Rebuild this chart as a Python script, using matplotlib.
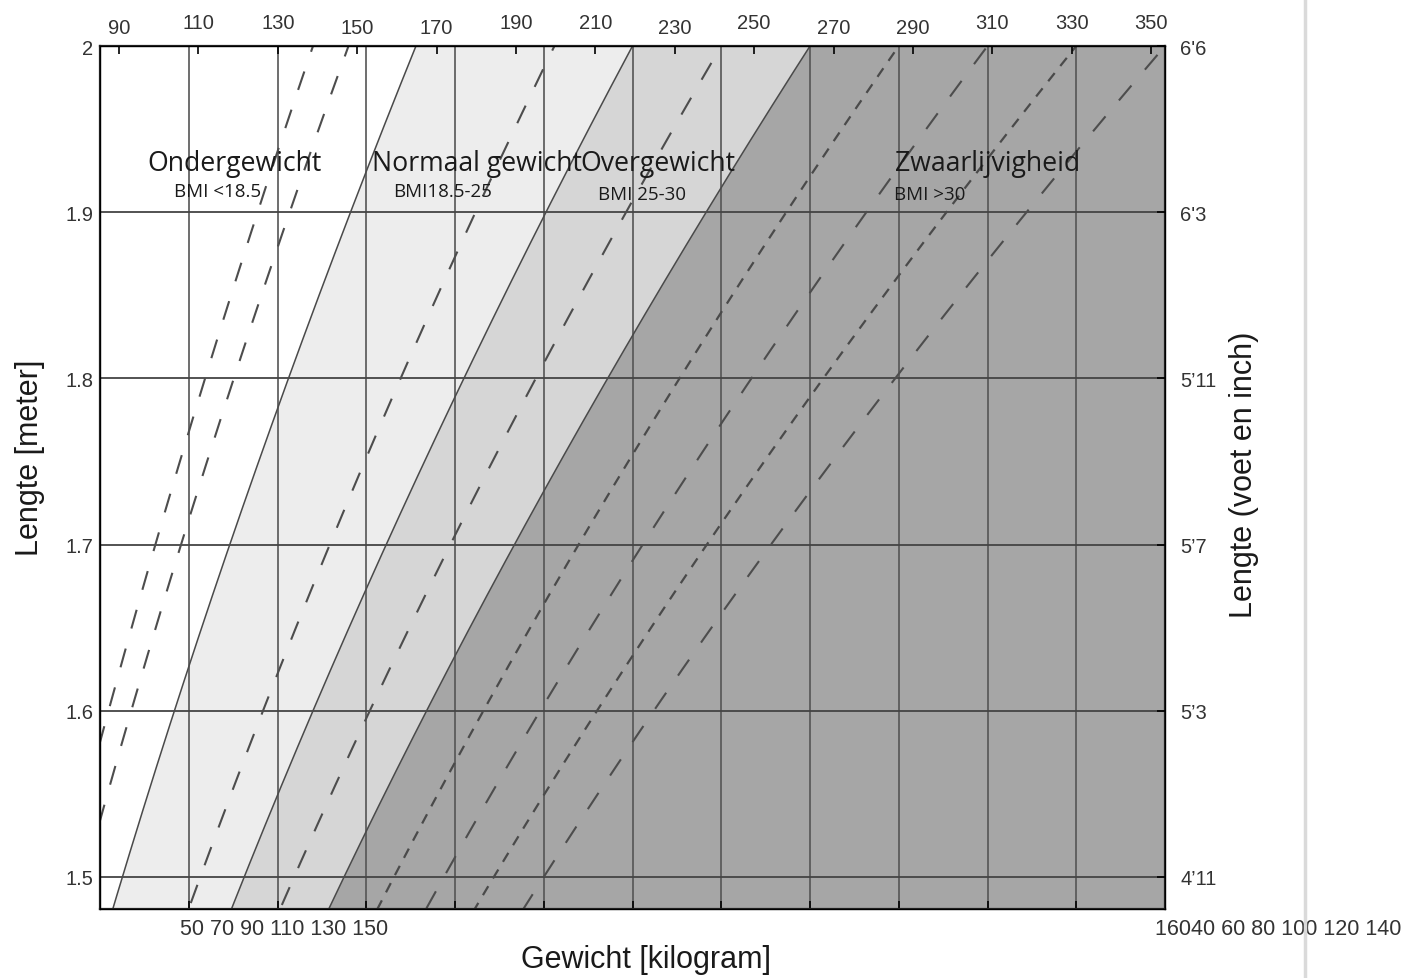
import numpy as np
import matplotlib
matplotlib.use("Agg")
import matplotlib.pyplot as plt
from matplotlib.lines import Line2D

plt.rcParams['lines.scale_dashes'] = False

# BMI class boundaries as drawn in the picture
bmi_edges = [0, 18.9, 25, 30, 200]
zone_colors = ['#ffffff', '#ededed', '#d6d6d6', '#a6a6a6']

# dashed helper lines (BMI values)
bmi_long_dash = [16, 17, 22.8, 27.5, 35, 40]
bmi_short_dash = [32.5, 37.5]
bmi_solid = [18.9, 25, 30]

zone_names = ['Ondergewicht', 'Normaal gewicht', 'Overgewicht', 'Zwaarlijvigheid']
zone_bmi_text = ['BMI <18.5', 'BMI18.5-25', 'BMI 25-30', 'BMI >30']

kg_ticks = [50, 60, 70, 80, 90, 100, 110, 120, 130, 140, 150]
m_ticks = [1.5, 1.6, 1.7, 1.8, 1.9, 2.0]
m_labels = ['1.5', '1.6', '1.7', '1.8', '1.9', '2']
ft_labels = ['4\u201911', '5\u20193', '5\u20197', '5\u201911', "6'3", "6'6"]
lbs_ticks = [90, 110, 130, 150, 170, 190, 210, 230, 250, 270, 290, 310, 330, 350]
lbs_low = [90, 150, 170, 230, 270, 290]
bottom_text_left = '50 70 90 110 130 150'
bottom_text_right = '16040 60 80 100 120 140'

W, H = 1401, 979
fig = plt.figure(figsize=(W / 100, H / 100), dpi=100)
ax = fig.add_axes([100 / W, 1 - 910 / H, 1065 / W, 863 / H])
ax.set_xlim(40, 160)
ax.set_ylim(1.4807, 2.0)

h = np.linspace(1.4, 2.1, 300)
for i in range(4):
    ax.fill_betweenx(h, bmi_edges[i] * h ** 2, bmi_edges[i + 1] * h ** 2,
                     color=zone_colors[i], lw=0, zorder=0)

line_col = '#4a4a4a'
for b in bmi_solid:
    ax.plot(b * h ** 2, h, color=line_col, lw=1.1, zorder=2)
for b in bmi_long_dash:
    ax.plot(b * h ** 2, h, color='#4d4d4d', lw=1.5, dashes=(14, 15), zorder=2)
for b in bmi_short_dash:
    ax.plot(b * h ** 2, h, color='#4a4a4a', lw=1.6, dashes=(7.5, 6.5), zorder=2)

for x in kg_ticks:
    ax.axvline(x, color='#555555', lw=1.2, zorder=1)
for y in m_ticks[:-1]:
    ax.axhline(y, color='#444444', lw=1.3, zorder=1)

for s in ax.spines.values():
    s.set_linewidth(1.6)
    s.set_color('#222222')

tick_font = dict(family='Liberation Sans', size=14.5)
ax.set_xticks(kg_ticks)
ax.tick_params(axis='x', direction='in', length=6, width=1.2, labelbottom=False)
ax.set_yticks(m_ticks)
ax.set_yticklabels(m_labels, fontdict=tick_font, color='#333333')
ax.tick_params(axis='y', direction='in', length=0, pad=5)

axr = ax.twinx()
axr.set_ylim(ax.get_ylim())
axr.set_yticks(m_ticks)
axr.set_yticklabels(ft_labels, fontdict=tick_font, color='#333333')
axr.tick_params(axis='y', direction='in', length=6, width=1.2, pad=11)

axt = ax.twiny()
axt.set_xlim(85.2, 353.5)
axt.set_xticks(lbs_ticks)
axt.set_xticklabels([str(v) for v in lbs_ticks], fontdict=tick_font, color='#333333')
axt.tick_params(axis='x', direction='in', length=6, width=1.2)
for t, v in zip(axt.xaxis.get_major_ticks(), lbs_ticks):
    t.set_pad(6.5 if v in lbs_low else 10)

# region labels
name_x = [45.3, 70.65, 94.08, 129.58]
bmi_x = [48.34, 73.0, 96.11, 129.46]
bmi_y = [1.9128, 1.9128, 1.911, 1.911]
for i in range(4):
    ax.text(name_x[i], 1.9295, zone_names[i], family='Open Sans', size=19.2,
            color='#1a1a1a', ha='left', va='center', zorder=3)
    ax.text(bmi_x[i], bmi_y[i], zone_bmi_text[i], family='Open Sans', size=13.5,
            color='#1a1a1a', ha='left', va='center', zorder=3)

ax.text(80 / 1065, -20 / 863, bottom_text_left, transform=ax.transAxes,
        ha='left', va='center', family='Liberation Sans', size=15.5, color='#333333')
ax.text(1055 / 1065, -20 / 863, bottom_text_right, transform=ax.transAxes,
        ha='left', va='center', family='Liberation Sans', size=15.5, color='#333333')

fig.text(646 / W, 1 - 960 / H, 'Gewicht [kilogram]', ha='center', va='center',
         family='Liberation Sans', size=22, color='#1a1a1a')
fig.text(30 / W, 1 - 458 / H, 'Lengte [meter]', ha='center', va='center',
         rotation=90, family='Liberation Sans', size=22, color='#1a1a1a')
fig.text(1244 / W, 1 - 475 / H, 'Lengte (voet en inch)', ha='center', va='center',
         rotation=90, family='Liberation Sans', size=22, color='#1a1a1a')

fig.add_artist(Line2D([1305 / W, 1305 / W], [0, 1], color='#dadada', lw=2.5))

fig.savefig('out.png', dpi=100)
